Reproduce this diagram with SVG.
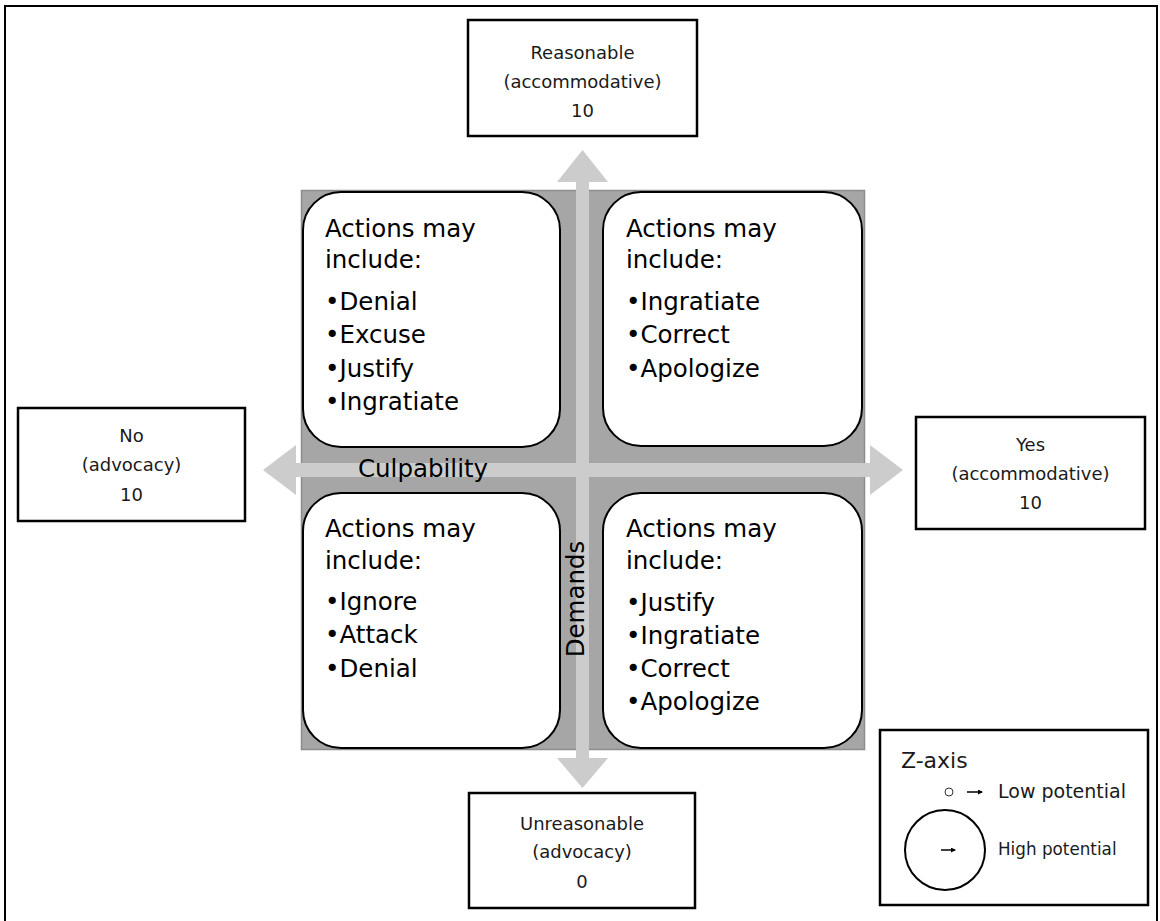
<svg xmlns="http://www.w3.org/2000/svg" width="1160" height="921" viewBox="0 0 1160 921">
  <style>
    .frame { fill: #ffffff; stroke: #000000; stroke-width: 2; }
    .label-box { fill: #ffffff; stroke: #000000; stroke-width: 2.5; }
    .label { font-family: "DejaVu Sans", Verdana, sans-serif; font-size: 18px; fill: #1a1a1a; text-anchor: middle; }
    .quad { fill: #ffffff; stroke: #000000; stroke-width: 2; }
    .big { font-family: "DejaVu Sans", Verdana, sans-serif; font-size: 24.5px; fill: #000000; }
    .axis { fill: #cccccc; }
    .legend-text { font-family: "DejaVu Sans", Verdana, sans-serif; fill: #1a1a1a; }
  </style>
  <defs>
    <marker id="tinyHead" viewBox="0 0 10 10" refX="8" refY="5" markerWidth="5" markerHeight="5" orient="auto" markerUnits="userSpaceOnUse">
      <path d="M0,0 L10,5 L0,10 z" fill="#000000"/>
    </marker>
  </defs>

  <!-- outer frame -->
  <rect class="frame" x="5" y="6" width="1152" height="925"/>

  <!-- shaded matrix background -->
  <rect id="matrix" x="301.5" y="190.5" width="563" height="559" fill="#a6a6a6" stroke="#8c8c8c" stroke-width="1.5"/>

  <!-- axis arrows -->
  <g id="connectors">
    <g id="culpability-axis">
      <rect class="axis" x="294" y="463" width="577" height="14"/>
      <polygon class="axis" points="296,445 263,470 296,495"/>
      <polygon class="axis" points="870,445 903,470 870,495"/>
    </g>
    <g id="demands-axis">
      <rect class="axis" x="576" y="181" width="13" height="578"/>
      <polygon class="axis" points="557,182 582.5,150 608,182"/>
      <polygon class="axis" points="557,758 582.5,788 608,758"/>
    </g>
  </g>

  <!-- quadrants -->
  <g id="quad-top-left">
    <rect class="quad" x="303" y="192" width="257" height="255" rx="38" ry="38"/>
    <text class="big" x="325" y="237">Actions may</text>
    <text class="big" x="325" y="268">include:</text>
    <text class="big" x="325" y="310">•Denial</text>
    <text class="big" x="325" y="343">•Excuse</text>
    <text class="big" x="325" y="377">•Justify</text>
    <text class="big" x="325" y="410">•Ingratiate</text>
  </g>
  <g id="quad-top-right">
    <rect class="quad" x="603" y="192" width="259" height="254" rx="38" ry="38"/>
    <text class="big" x="626" y="237">Actions may</text>
    <text class="big" x="626" y="268">include:</text>
    <text class="big" x="626" y="310">•Ingratiate</text>
    <text class="big" x="626" y="343">•Correct</text>
    <text class="big" x="626" y="377">•Apologize</text>
  </g>
  <g id="quad-bottom-left">
    <rect class="quad" x="303" y="493" width="257" height="255" rx="38" ry="38"/>
    <text class="big" x="325" y="537">Actions may</text>
    <text class="big" x="325" y="569">include:</text>
    <text class="big" x="325" y="610">•Ignore</text>
    <text class="big" x="325" y="643">•Attack</text>
    <text class="big" x="325" y="677">•Denial</text>
  </g>
  <g id="quad-bottom-right">
    <rect class="quad" x="603" y="493" width="259" height="255" rx="38" ry="38"/>
    <text class="big" x="626" y="537">Actions may</text>
    <text class="big" x="626" y="569">include:</text>
    <text class="big" x="626" y="611">•Justify</text>
    <text class="big" x="626" y="644">•Ingratiate</text>
    <text class="big" x="626" y="677">•Correct</text>
    <text class="big" x="626" y="710">•Apologize</text>
  </g>

  <!-- axis titles -->
  <g id="axis-labels">
    <text class="big" x="423" y="477" text-anchor="middle">Culpability</text>
    <text class="big" transform="translate(584,599) rotate(-90)" text-anchor="middle">Demands</text>
  </g>

  <!-- pole labels -->
  <g id="pole-top">
    <rect class="label-box" x="468" y="20" width="229" height="116"/>
    <text class="label" x="582.5" y="59">Reasonable</text>
    <text class="label" x="582.5" y="88">(accommodative)</text>
    <text class="label" x="582.5" y="117">10</text>
  </g>
  <g id="pole-left">
    <rect class="label-box" x="18" y="408" width="227" height="113"/>
    <text class="label" x="131.5" y="442">No</text>
    <text class="label" x="131.5" y="471">(advocacy)</text>
    <text class="label" x="131.5" y="501">10</text>
  </g>
  <g id="pole-right">
    <rect class="label-box" x="916" y="417" width="229" height="112"/>
    <text class="label" x="1030.5" y="451">Yes</text>
    <text class="label" x="1030.5" y="480">(accommodative)</text>
    <text class="label" x="1030.5" y="509">10</text>
  </g>
  <g id="pole-bottom">
    <rect class="label-box" x="469" y="793" width="226" height="115"/>
    <text class="label" x="582" y="830">Unreasonable</text>
    <text class="label" x="582" y="858">(advocacy)</text>
    <text class="label" x="582" y="888">0</text>
  </g>

  <!-- z-axis legend -->
  <g id="legend">
    <rect class="label-box" x="880" y="730" width="268" height="175"/>
    <text class="legend-text" x="901" y="768" font-size="22">Z-axis</text>
    <circle cx="949" cy="792" r="4" fill="#ffffff" stroke="#333333" stroke-width="1"/>
    <line x1="967" y1="792" x2="982" y2="792" stroke="#000000" stroke-width="1.5" marker-end="url(#tinyHead)"/>
    <text class="legend-text" x="998" y="798" font-size="19">Low potential</text>
    <circle cx="945" cy="850" r="40" fill="none" stroke="#000000" stroke-width="2"/>
    <line x1="941" y1="850" x2="955" y2="850" stroke="#000000" stroke-width="1.5" marker-end="url(#tinyHead)"/>
    <text class="legend-text" x="998" y="855" font-size="16.8">High potential</text>
  </g>
</svg>
